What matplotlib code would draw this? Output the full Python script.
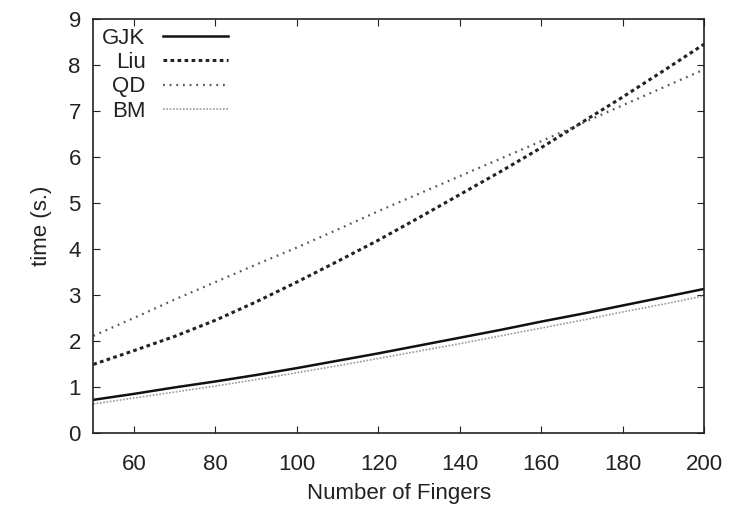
import numpy as np
import matplotlib.pyplot as plt

plt.rcParams['font.family'] = ['Liberation Sans', 'DejaVu Sans']

# number of fingers
fingers = [50, 60, 70, 80, 90, 100, 110, 120, 130, 140, 150, 160, 170, 180, 190, 200]

# time (s.)
gjk = [0.72, 0.85, 0.99, 1.12, 1.26, 1.41, 1.57, 1.73, 1.90, 2.07, 2.24, 2.42, 2.59, 2.77, 2.95, 3.13]
liu = [1.49, 1.79, 2.10, 2.45, 2.85, 3.28, 3.73, 4.19, 4.68, 5.18, 5.68, 6.20, 6.75, 7.30, 7.87, 8.45]
qd = [2.11, 2.50, 2.90, 3.28, 3.66, 4.03, 4.42, 4.82, 5.20, 5.58, 5.96, 6.34, 6.73, 7.12, 7.51, 7.90]
bm = [0.63, 0.76, 0.89, 1.02, 1.16, 1.31, 1.46, 1.62, 1.78, 1.94, 2.11, 2.28, 2.45, 2.63, 2.80, 2.98]

fig = plt.figure(figsize=(7.29, 5.07), dpi=100)
ax = fig.add_axes([0.128, 0.146, 0.838, 0.817])

ax.plot(fingers, gjk, color='#111111', lw=1.8, ls='-', label='GJK')
ax.plot(fingers, liu, color='#222222', lw=2.2, ls=(0, (1.2, 1.1)), label='Liu')
ax.plot(fingers, qd, color='#555555', lw=1.6, ls=(0, (0.8, 2.2)), label='QD')
ax.plot(fingers, bm, color='#999999', lw=1.2, ls=(0, (1, 1)), label='BM')

ax.set_xlim(50, 200)
ax.set_ylim(0, 9)
ax.set_xticks(range(60, 201, 20))
ax.set_yticks(range(0, 10))
ax.tick_params(direction='in', top=True, right=True, labelsize=16, length=5, colors='#222222')
ax.tick_params(axis='x', pad=15)
ax.tick_params(axis='y', pad=9)
for s in ax.spines.values():
    s.set_color('#222222')
    s.set_linewidth(1.2)

ax.set_xlabel('Number of Fingers', fontsize=16, color='#222222', labelpad=6)
ax.set_ylabel('time (s.)', fontsize=16, color='#222222', labelpad=12)

leg = ax.legend(loc='upper left', markerfirst=False, frameon=False, fontsize=16,
                handlelength=2.9, labelspacing=0.15, borderaxespad=0.2, handletextpad=0.8,
                borderpad=0.2)
for t in leg.get_texts():
    t.set_ha('right')
    t.set_color('#222222')

fig.savefig('out.png', dpi=100)
